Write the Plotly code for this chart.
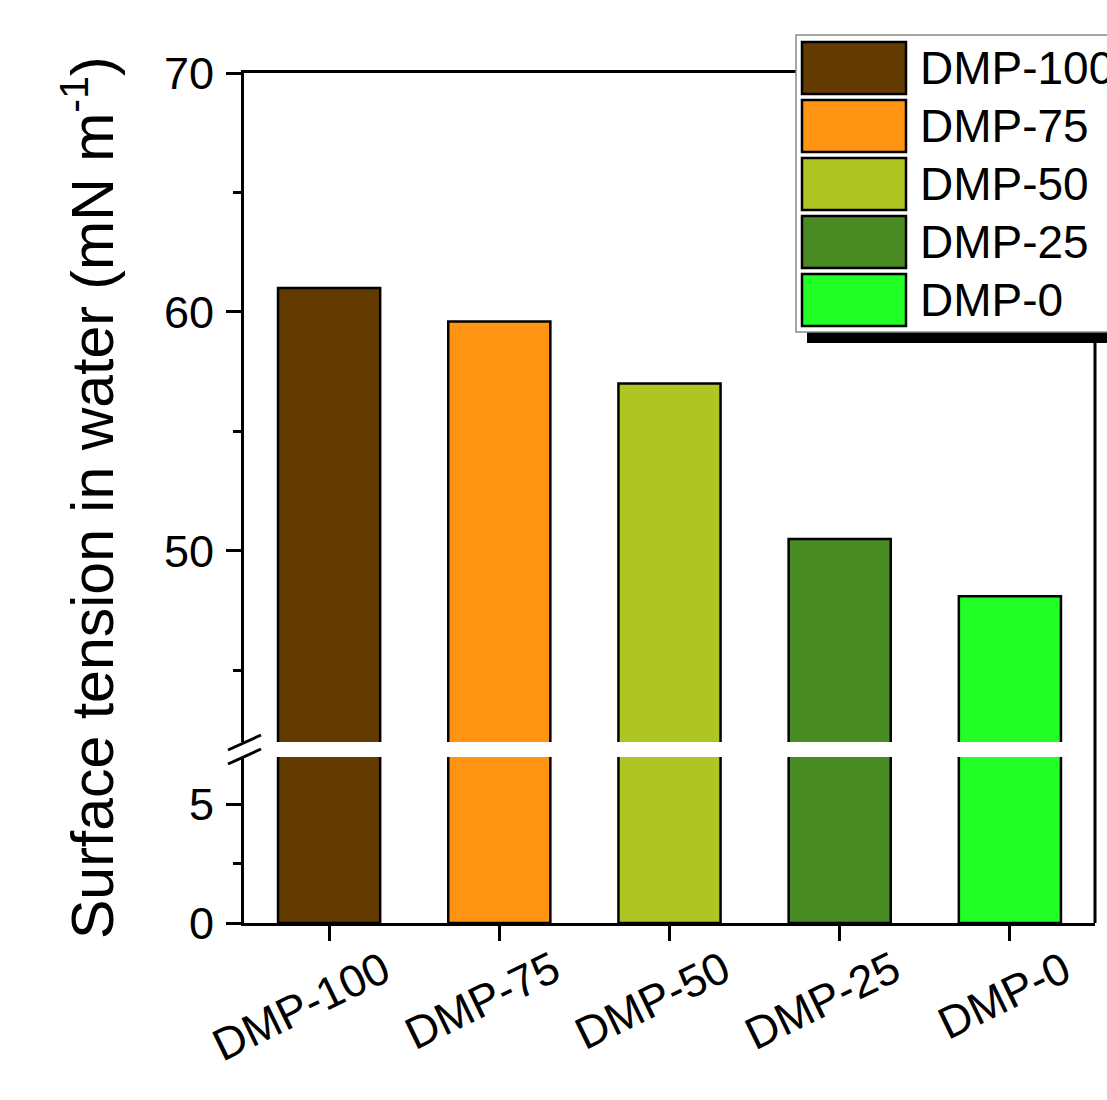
import plotly.graph_objects as go

categories = ["DMP-100", "DMP-75", "DMP-50", "DMP-25", "DMP-0"]
surface_tension = [61.0, 59.6, 57.0, 50.5, 48.1]
colors = ["#633A00", "#FF9412", "#AFC622", "#4A8A23", "#21FF27"]
y_title = "Surface tension in water (mN m<sup>-1</sup>)"
lower_range = [0, 7]
upper_range = [42, 70]

W, H = 1107, 1100
L, R, T, B = 244, 1095, 73, 923
FONT = "Arial, Liberation Sans, sans-serif"


def px(x):
    return (x - L) / (R - L)


def py(y):
    return (B - y) / (B - T)


lower_top = 757
upper_bottom = 742
dom_lower = [0, py(lower_top)]
dom_upper = [py(upper_bottom), 1]

fig = go.Figure()
bar_style = dict(marker=dict(color=colors, line=dict(color="black", width=2.5)), width=0.6)
fig.add_trace(go.Bar(x=categories, y=surface_tension, xaxis="x", yaxis="y", **bar_style))
fig.add_trace(go.Bar(x=categories, y=surface_tension, xaxis="x2", yaxis="y2", **bar_style))

axis_common = dict(showline=True, linewidth=3, linecolor="black", showgrid=False, zeroline=False)
ytick_common = dict(ticks="outside", ticklen=15, tickwidth=3, tickcolor="black",
                    tickfont=dict(family=FONT, size=45, color="black"), ticklabelstandoff=3)

fig.update_layout(
    width=W, height=H,
    margin=dict(l=L, r=W - R, t=T, b=H - B),
    plot_bgcolor="white", paper_bgcolor="white",
    showlegend=False, bargap=0.4,
    xaxis=dict(domain=[0, 1], anchor="y", type="category", range=[-0.5, 4.5],
               ticks="outside", ticklen=15, tickwidth=3, tickcolor="black",
               showticklabels=False, **axis_common),
    xaxis2=dict(domain=[0, 1], anchor="y2", matches="x", type="category", range=[-0.5, 4.5],
                side="top", ticks="", showticklabels=False, **axis_common),
    yaxis=dict(domain=dom_lower, anchor="x", range=lower_range, tick0=0, dtick=5,
               minor=dict(ticks="outside", ticklen=8, tickwidth=3, tickcolor="black", tick0=0, dtick=2.5),
               **ytick_common, **axis_common),
    yaxis2=dict(domain=dom_upper, anchor="x2", range=upper_range, tick0=0, dtick=10,
                minor=dict(ticks="outside", ticklen=8, tickwidth=3, tickcolor="black", tick0=0, dtick=5),
                **ytick_common, **axis_common),
)

shapes = []
# right frame line (continuous through the break)
shapes.append(dict(type="line", xref="paper", yref="paper", x0=1, x1=1, y0=0, y1=1,
                   line=dict(color="black", width=3)))
# break marks on the left axis
for y_a, y_b in [(750, 735), (764, 749)]:
    shapes.append(dict(type="line", xref="paper", yref="paper", x0=px(228), x1=px(261),
                       y0=py(y_a), y1=py(y_b), line=dict(color="black", width=3)))
# legend shadow and box
shapes.append(dict(type="rect", xref="paper", yref="paper", x0=px(807), x1=px(1120),
                   y0=py(343), y1=py(45), fillcolor="black", line=dict(width=0)))
shapes.append(dict(type="rect", xref="paper", yref="paper", x0=px(796), x1=px(1120),
                   y0=py(332), y1=py(35), fillcolor="white", line=dict(color="#8a8a8a", width=1.5)))

annotations = []
for i, (cat, col) in enumerate(zip(categories, colors)):
    top = 42 + 58 * i
    shapes.append(dict(type="rect", xref="paper", yref="paper", x0=px(802), x1=px(906),
                       y0=py(top + 52), y1=py(top), fillcolor=col,
                       line=dict(color="black", width=2.5)))
    annotations.append(dict(text=cat, xref="paper", yref="paper", x=px(918), y=py(top + 26),
                            xanchor="left", yanchor="middle", showarrow=False,
                            font=dict(family=FONT, size=46, color="black")))
    # rotated category labels
    annotations.append(dict(text=cat, xref="x", yref="paper", x=cat, y=0, xshift=71, yshift=-16,
                            xanchor="right", yanchor="top", textangle=-26, showarrow=False,
                            font=dict(family=FONT, size=45, color="black")))

annotations.append(dict(text=y_title, xref="paper", yref="paper", x=px(88), y=0.5,
                        xanchor="center", yanchor="middle", textangle=-90, showarrow=False,
                        font=dict(family=FONT, size=59, color="black")))

fig.update_layout(shapes=shapes, annotations=annotations)
fig.write_html("out.html")
